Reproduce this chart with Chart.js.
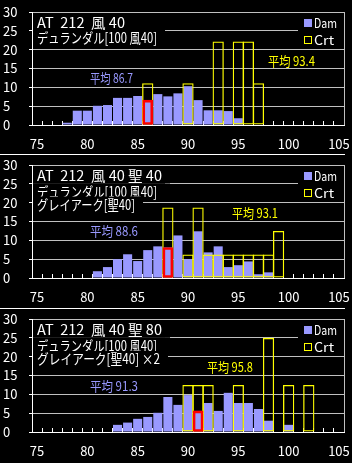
<!DOCTYPE html>
<html><head><meta charset="utf-8">
<script src="https://cdn.jsdelivr.net/npm/chart.js@4/dist/chart.umd.min.js"></script>
<style>
html,body{margin:0;padding:0;background:#000;width:352px;height:463px;overflow:hidden}
canvas.p{position:absolute;left:0}
.sep{position:absolute;left:0;width:345px;height:1px;background:#fff}
</style></head><body>
<canvas id="c1" class="p" width="352" height="154" style="top:0px"></canvas>
<canvas id="c2" class="p" width="352" height="154" style="top:153px"></canvas>
<canvas id="c3" class="p" width="352" height="156" style="top:307px"></canvas>
<div class="sep" style="top:154px"></div>
<div class="sep" style="top:308px"></div>
<script>
// ---- data ----
const bins = ['75','76','77','78','79','80','81','82','83','84','85','86','87','88','89','90',
              '91','92','93','94','95','96','97','98','99','100','101','102','103','104','105'];
const yTicks = [0, 5, 10, 15, 20, 25, 30];
const seriesNames = ['Dam', 'Crt'];

// panel 1 : AT 212 風 40
const title1 = ['AT  212  風 40', 'デュランダル[100 風40]'];
const dam1 = [null,null,null,0.6,3.8,3.8,5.1,5.3,7.2,7.2,7.7,6.6,8.2,7.6,8.4,10.3,
              6.6,3.9,3.9,3.7,1.8,null,null,null,null,null,null,null,null,null,null];
const crt1 = [null,null,null,null,null,null,null,null,null,null,null,11.1,null,null,null,11.1,
              null,null,22.2,null,22.2,22.2,11.1,null,null,null,null,null,null,null,null];
const mean1 = ['86.7', '93.4'];
const hiBin1 = '86';

// panel 2 : AT 212 風 40 聖 40
const title2 = ['AT  212  風 40 聖 40', 'デュランダル[100 風40]', 'グレイアーク[聖40]'];
const dam2 = [null,null,null,null,null,null,1.8,2.9,5.0,6.3,4.5,7.4,8.4,8.1,11.3,5.0,
              12.4,6.8,8.4,2.9,3.4,4.4,1.0,1.5,null,null,null,null,null,null,null];
const crt2 = [null,null,null,null,null,null,null,null,null,null,null,null,null,18.75,null,6.25,
              18.75,6.25,6.25,6.25,6.25,6.25,6.25,6.25,12.5,null,null,null,null,null,null];
const mean2 = ['88.6', '93.1'];
const hiBin2 = '88';

// panel 3 : AT 212 風 40 聖 80
const title3 = ['AT  212  風 40 聖 80', 'デュランダル[100 風40]', 'グレイアーク[聖40] ×2'];
const dam3 = [null,null,null,null,null,null,null,null,1.9,2.5,3.5,4.0,5.1,9.3,7.2,9.8,
              5.6,7.7,5.6,10.4,7.7,7.7,6.1,3.0,null,1.9,null,null,null,null,null];
const crt3 = [null,null,null,null,null,null,null,null,null,null,null,null,null,null,null,12.5,
              12.5,12.5,null,null,12.5,null,null,25,null,12.5,null,12.5,null,null,null];
const mean3 = ['91.3', '95.8'];
const hiBin3 = '91';

// ---- styling ----
const FONT_FAMILY = '"Noto Sans CJK JP", "Noto Sans", sans-serif';
const FONT = '12px ' + FONT_FAMILY;
const TITLE_FONT = '14px ' + FONT_FAMILY;
const MEAN_FONT = '13px ' + FONT_FAMILY;
const LEGEND_FONT = '13px ' + FONT_FAMILY;
const DAM_COLOR = '#9999ff';
const CRT_COLOR = '#ffff00';
const GRID_COLOR = '#c0c0c0';

Chart.defaults.font.family = FONT_FAMILY;
Chart.defaults.font.size = 12;
Chart.defaults.color = '#ffffff';

// draw text horizontally scaled to a target width
function fitText(ctx, text, x, y, target) {
  const w = ctx.measureText(text).width;
  ctx.save();
  ctx.translate(x, y);
  ctx.scale(target / w, 1);
  ctx.fillText(text, 0, 0);
  ctx.restore();
}

const overlay = {
  id: 'overlay',
  beforeDatasetsDraw(chart, args, o) {
    const ctx = chart.ctx, a = chart.chartArea;
    ctx.save();
    ctx.strokeStyle = GRID_COLOR; ctx.lineWidth = 1;
    const rx = Math.round(a.right) + 0.5;
    ctx.beginPath(); ctx.moveTo(rx, a.top); ctx.lineTo(rx, a.bottom); ctx.stroke();

    ctx.textBaseline = 'middle'; ctx.textAlign = 'left';
    ctx.font = TITLE_FONT;
    o.lines.forEach((t, i) => {
      const y = o.lineY[i], w = o.lineW[i];
      ctx.fillStyle = '#000';
      ctx.fillRect(a.left + 1, y - 8, (o.textX - a.left - 1) + w + 8, 16);
      ctx.fillStyle = '#fff';
      fitText(ctx, t, o.textX, y, w);
    });
    ctx.fillStyle = '#000';
    ctx.fillRect(298, 14, a.right - 298, 33);
    ctx.fillStyle = DAM_COLOR;
    ctx.fillRect(304, 19, 8, 8);
    ctx.strokeStyle = CRT_COLOR; ctx.lineWidth = 1;
    ctx.strokeRect(304.5, 36.5, 7, 7);
    ctx.fillStyle = '#fff';
    ctx.font = LEGEND_FONT;
    fitText(ctx, seriesNames[0], 314, 23, 23);
    fitText(ctx, seriesNames[1], 314, 40, 20);
    ctx.font = MEAN_FONT;
    ctx.fillStyle = DAM_COLOR;
    fitText(ctx, '平均 ' + o.means[0], o.meanPos[0][0], o.meanPos[0][1], o.meanW[0]);
    ctx.fillStyle = CRT_COLOR;
    fitText(ctx, '平均 ' + o.means[1], o.meanPos[1][0], o.meanPos[1][1], o.meanW[1]);
    ctx.restore();
  }
};

function makePanel(id, dam, crt, hiBin, lines, lineY, lineW, means, meanPos, meanW) {
  const cv = document.getElementById(id);
  const hiIdx = bins.indexOf(hiBin);
  const hi = bins.map((b, i) => i === hiIdx ? dam[i] : null);
  const xHeight = cv.height - 12 - 113;
  new Chart(cv, {
    type: 'bar',
    data: {
      labels: bins,
      datasets: [
        { label: 'hi', data: hi, order: 0, grouped: false,
          backgroundColor: 'rgba(0,0,0,0)', borderColor: '#ff0000', borderWidth: 2,
          borderSkipped: false, barPercentage: 1, categoryPercentage: 1 },
        { label: seriesNames[1], data: crt, order: 1, grouped: false,
          backgroundColor: 'rgba(0,0,0,0)', borderColor: CRT_COLOR, borderWidth: 1.3,
          borderSkipped: false, barPercentage: 1.12, categoryPercentage: 1 },
        { label: seriesNames[0], data: dam, order: 2, grouped: false,
          backgroundColor: DAM_COLOR, borderWidth: 0,
          barPercentage: 0.9, categoryPercentage: 1 }
      ]
    },
    options: {
      responsive: false, animation: false, devicePixelRatio: 1,
      layout: { padding: { left: 3, top: 12, right: 8, bottom: 0 } },
      plugins: { legend: { display: false }, tooltip: { enabled: false }, overlay: {
        lines, lineY, lineW, textX: 37, means, meanPos, meanW } },
      scales: {
        x: {
          type: 'category', offset: true,
          grid: { display: true, offset: true, drawOnChartArea: false, drawTicks: true,
                  tickLength: -4, tickColor: '#ffffff', tickWidth: 1 },
          border: { display: true, color: '#ffffff', width: 1 },
          ticks: { autoSkip: false, maxRotation: 0, minRotation: 0, padding: 15, color: '#ffffff',
                   font: { size: 13 },
                   callback: (v, i) => (Number(bins[i]) % 5 === 0 ? bins[i] : '') },
          afterFit: s => { s.height = xHeight; s.paddingLeft = 0; s.paddingRight = 0; }
        },
        y: {
          min: 0, max: 30,
          afterBuildTicks: s => { s.ticks = yTicks.map(v => ({ value: v })); },
          grid: { color: GRID_COLOR, tickColor: '#ffffff', tickLength: 3, lineWidth: 1 },
          border: { display: true, color: '#ffffff', width: 1 },
          ticks: { crossAlign: 'far', color: '#ffffff', padding: 2, font: { size: 13 } },
          afterFit: s => { s.width = 29; }
        }
      }
    },
    plugins: [overlay]
  });
}

makePanel('c1', dam1, crt1, hiBin1, title1, [22.5, 38], [88, 120],
          mean1, [[90, 78.5], [268, 61]], [43, 47]);
makePanel('c2', dam2, crt2, hiBin2, title2, [22.5, 38.3, 51.5], [125, 120, 98],
          mean2, [[90, 78.5], [232, 60.5]], [48, 46]);
makePanel('c3', dam3, crt3, hiBin3, title3, [22.8, 38.8, 52], [125, 120, 123],
          mean3, [[90, 79], [207, 60.5]], [48, 46]);
</script>
</body></html>
